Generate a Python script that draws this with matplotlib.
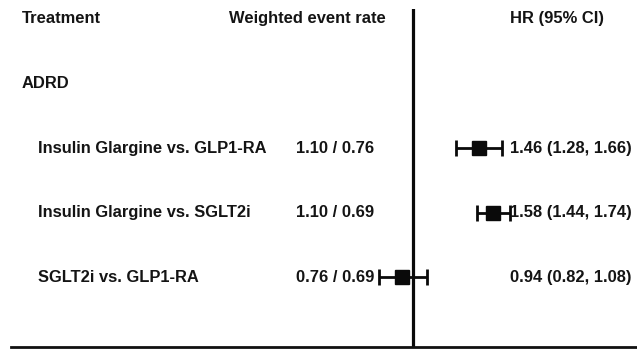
import matplotlib.pyplot as plt
from matplotlib.transforms import blended_transform_factory

plt.rcParams['font.family'] = ['Liberation Sans', 'DejaVu Sans']

# data
outcome = "ADRD"
comparisons = ["Insulin Glargine vs. GLP1-RA", "Insulin Glargine vs. SGLT2i", "SGLT2i vs. GLP1-RA"]
rate_first = [1.10, 1.10, 0.76]
rate_second = [0.76, 0.69, 0.69]
hr = [1.46, 1.58, 0.94]
hr_low = [1.28, 1.44, 0.82]
hr_high = [1.66, 1.74, 1.08]

row_y = [2, 3, 4]
txt_color = "#141414"

fig = plt.figure(figsize=(6.37, 3.49), dpi=100)
ax = fig.add_axes([11 / 637, 2 / 349, 626 / 637, 338 / 349])
ax.set_xscale("log")
ax.set_xlim(0.1, 3.6)
ax.set_ylim(5.085, -0.155)

for s in ["top", "left", "right"]:
    ax.spines[s].set_visible(False)
ax.spines["bottom"].set_linewidth(2)
ax.spines["bottom"].set_color("#111111")
ax.set_xticks([])
ax.set_xticks([], minor=True)
ax.set_yticks([])

ax.axvline(1, color="#0a0a0a", linewidth=2.3, zorder=1)

err_lo = [h - l for h, l in zip(hr, hr_low)]
err_hi = [u - h for h, u in zip(hr, hr_high)]
ax.errorbar(hr, row_y, xerr=[err_lo, err_hi], fmt="s", color="#0a0a0a",
            markersize=9.5, elinewidth=2, capsize=5.5, capthick=2, zorder=3)

tr = blended_transform_factory(ax.transAxes, ax.transData)
font = dict(fontsize=11.9, fontweight="bold", color=txt_color, va="center", transform=tr)

ax.text(0.0176, 0, "Treatment", ha="left", **font)
ax.text(0.474, 0, "Weighted event rate", ha="center", **font)
ax.text(0.872, 0, "HR (95% CI)", ha="center", **font)
ax.text(0.0176, 1, outcome, ha="left", **font)

for i, y in enumerate(row_y):
    ax.text(0.0431, y, comparisons[i], ha="left", **font)
    ax.text(0.455, y, f"{rate_first[i]:.2f} / {rate_second[i]:.2f}", ha="left", **font)
    ax.text(0.992, y, f"{hr[i]:.2f} ({hr_low[i]:.2f}, {hr_high[i]:.2f})", ha="right", **font)

fig.savefig("out.png", dpi=100)
